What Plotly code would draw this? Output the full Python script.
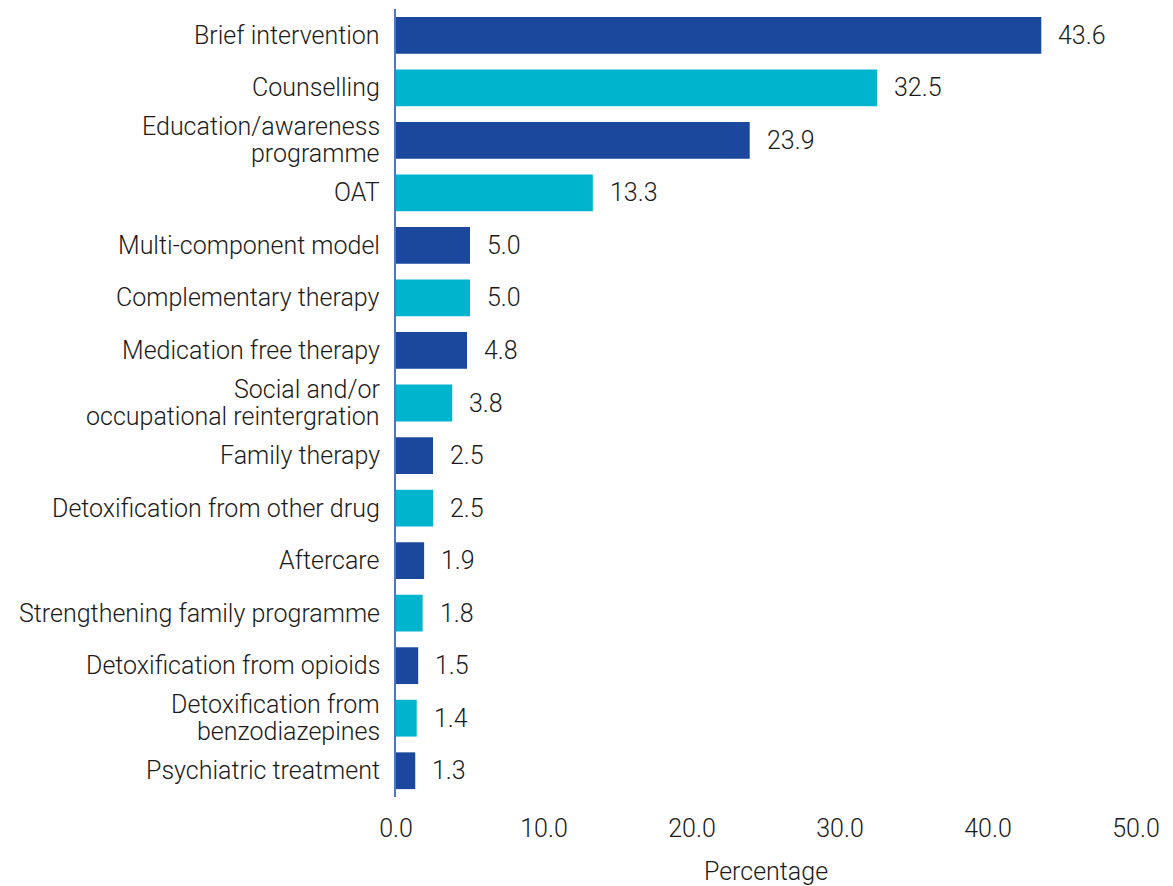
import plotly.graph_objects as go

categories = [
    "Brief intervention",
    "Counselling",
    "Education/awareness<br>programme",
    "OAT",
    "Multi-component model",
    "Complementary therapy",
    "Medication free therapy",
    "Social and/or<br>occupational reintergration",
    "Family therapy",
    "Detoxification from other drug",
    "Aftercare",
    "Strengthening family programme",
    "Detoxification from opioids",
    "Detoxification from<br>benzodiazepines",
    "Psychiatric treatment",
]
values = [43.6, 32.5, 23.9, 13.3, 5.0, 5.0, 4.8, 3.8, 2.5, 2.5, 1.9, 1.8, 1.5, 1.4, 1.3]
x_ticks = [0, 10, 20, 30, 40, 50]
x_tick_labels = ["0.0", "10.0", "20.0", "30.0", "40.0", "50.0"]

dark = "#1B479D"
cyan = "#00B4CE"
colors = [dark if i % 2 == 0 else cyan for i in range(len(values))]

FONT = "Roboto"
FS = 25
TXT = "#1a1a1a"
WEIGHT = 300

fig = go.Figure(
    go.Bar(
        x=values,
        y=categories,
        orientation="h",
        marker=dict(color=colors, line=dict(width=0)),
        width=0.7,
        hoverinfo="x+y",
    )
)

annotations = []
# value labels
for cat, v in zip(categories, values):
    annotations.append(dict(
        x=v, y=cat, xref="x", yref="y", text=f"{v:.1f}",
        showarrow=False, xanchor="left", yanchor="middle", xshift=15,
        font=dict(family=FONT, size=FS, color=TXT, weight=WEIGHT),
    ))
# category labels (tight line spacing like the original)
LINE = 27
for cat in categories:
    lines = cat.split("<br>")
    n = len(lines)
    for i, ln in enumerate(lines):
        annotations.append(dict(
            x=0, y=cat, xref="paper", yref="y", text=ln,
            showarrow=False, xanchor="right", yanchor="middle",
            xshift=-14, yshift=((n - 1) / 2 - i) * LINE,
            font=dict(family=FONT, size=FS, color=TXT, weight=WEIGHT),
        ))

fig.update_layout(
    width=1165,
    height=878,
    paper_bgcolor="white",
    plot_bgcolor="white",
    margin=dict(l=388, r=37, t=1, b=89, autoexpand=False),
    font=dict(family=FONT, size=FS, color=TXT, weight=WEIGHT),
    showlegend=False,
    annotations=annotations,
)
fig.update_yaxes(
    autorange="reversed",
    showline=True,
    linecolor="#4A78C6",
    linewidth=1.5,
    showgrid=False,
    showticklabels=False,
    automargin=False,
)
fig.update_xaxes(
    range=[0, 50],
    tickvals=x_ticks,
    ticktext=x_tick_labels,
    showgrid=False,
    zeroline=False,
    showline=False,
    ticks="outside",
    ticklen=9,
    tickcolor="rgba(0,0,0,0)",
    tickfont=dict(family=FONT, size=FS, color=TXT, weight=WEIGHT),
    automargin=False,
    title=dict(text="Percentage", font=dict(family=FONT, size=FS, color=TXT, weight=WEIGHT), standoff=23),
)

fig.write_html("out.html")
